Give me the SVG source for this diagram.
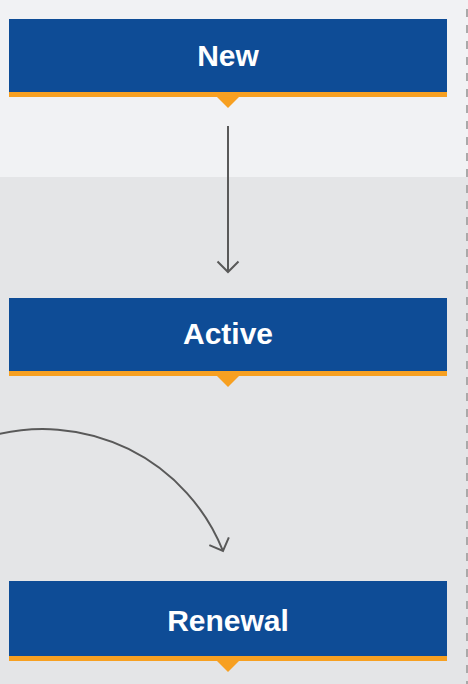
<svg xmlns="http://www.w3.org/2000/svg" width="468" height="684" viewBox="0 0 468 684">
<style>
.box{fill:#0e4c96}
.bar{fill:#f7a021}
.lbl{fill:#ffffff;font-family:"Liberation Sans",Arial,sans-serif;font-weight:bold;font-size:30px;text-anchor:middle}
.conn{fill:none;stroke:#595959;stroke-width:2}
</style>
<defs>
<marker id="chev" viewBox="0 0 26 26" refX="21" refY="13" markerWidth="26" markerHeight="26" markerUnits="userSpaceOnUse" orient="auto">
<path d="M10.5,2.5 L21,13 L10.5,23.5" fill="none" stroke="#595959" stroke-width="2"/>
</marker>
</defs>
<rect x="0" y="0" width="468" height="177" fill="#f1f2f4"/>
<rect x="0" y="177" width="468" height="507" fill="#e4e5e7"/>
<line x1="467" y1="9" x2="467" y2="684" stroke="#a9a9a9" stroke-width="2" stroke-dasharray="8,8"/>
<g id="connectors">
<path class="conn" d="M228,126 L228,272" marker-end="url(#chev)"/>
<path class="conn" d="M-10,436.4 A194,194 0 0 1 223,551" marker-end="url(#chev)"/>
</g>
<g id="node-new">
<rect class="box" x="9" y="19" width="438" height="73"/>
<rect class="bar" x="9" y="92" width="438" height="5"/>
<polygon class="bar" points="217,97 239,97 228,108"/>
<text class="lbl" x="228" y="66">New</text>
</g>
<g id="node-active">
<rect class="box" x="9" y="298" width="438" height="73"/>
<rect class="bar" x="9" y="371" width="438" height="5"/>
<polygon class="bar" points="217,376 239,376 228,387"/>
<text class="lbl" x="228" y="344">Active</text>
</g>
<g id="node-renewal">
<rect class="box" x="9" y="581" width="438" height="75"/>
<rect class="bar" x="9" y="656" width="438" height="5"/>
<polygon class="bar" points="217,661 239,661 228,672"/>
<text class="lbl" x="228" y="631">Renewal</text>
</g>
</svg>
